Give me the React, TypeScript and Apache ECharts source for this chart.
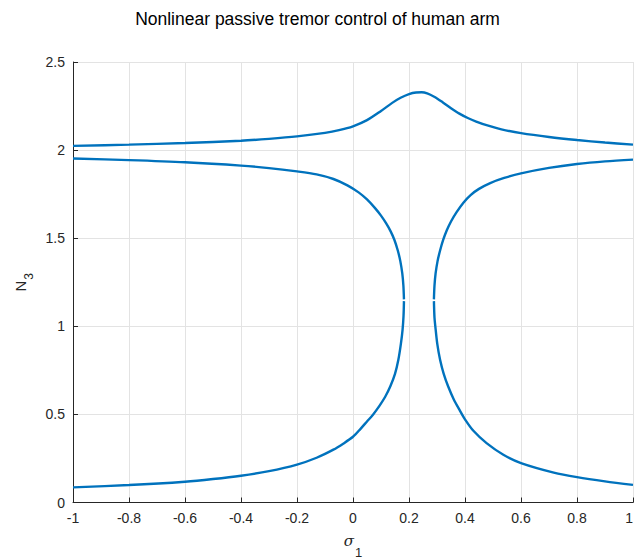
import React, { useEffect, useRef } from "react";
import * as echarts from "echarts";

const xTicks = { min: -1, max: 1, interval: 0.2 };
const yTicks = { min: 0, max: 2.5, interval: 0.5 };

const topCurve: [number, number][] = [
  [-1, 2.024], [-0.8, 2.031], [-0.6, 2.04], [-0.4, 2.053], [-0.3, 2.064], [-0.2, 2.078],
  [-0.1, 2.098], [-0.05, 2.113], [0, 2.135], [0.05, 2.17], [0.1, 2.222], [0.14, 2.268],
  [0.17, 2.297], [0.2, 2.318], [0.225, 2.327], [0.245, 2.328], [0.265, 2.322], [0.29, 2.303],
  [0.32, 2.272], [0.35, 2.238], [0.38, 2.207], [0.41, 2.182], [0.44, 2.162], [0.48, 2.14],
  [0.53, 2.118], [0.6, 2.096], [0.7, 2.074], [0.8, 2.057], [0.9, 2.043], [1, 2.031],
];

const leftUpper: [number, number][] = [
  [-1, 1.952], [-0.8, 1.943], [-0.6, 1.931], [-0.4, 1.912], [-0.3, 1.898], [-0.2, 1.879],
  [-0.13, 1.862], [-0.07, 1.836], [-0.02, 1.8], [0.02, 1.76], [0.05, 1.72], [0.078, 1.672],
  [0.1, 1.628], [0.118, 1.585], [0.134, 1.54], [0.148, 1.49], [0.16, 1.43], [0.169, 1.37],
  [0.176, 1.3], [0.18, 1.23], [0.182, 1.153],
];

const leftLower: [number, number][] = [
  [0.182, 1.143], [0.1805, 1.06], [0.177, 0.98], [0.171, 0.9], [0.162, 0.81], [0.15, 0.73],
  [0.133, 0.658], [0.115, 0.6], [0.095, 0.55], [0.072, 0.5], [0.05, 0.46], [0.027, 0.418],
  [0, 0.373], [-0.035, 0.334], [-0.07, 0.3], [-0.13, 0.254], [-0.2, 0.215], [-0.3, 0.178],
  [-0.4, 0.152], [-0.5, 0.133], [-0.6, 0.118], [-0.8, 0.099], [-1, 0.086],
];

const rightUpper: [number, number][] = [
  [0.289, 1.153], [0.291, 1.23], [0.295, 1.3], [0.302, 1.37], [0.311, 1.43], [0.322, 1.49],
  [0.335, 1.545], [0.35, 1.595], [0.37, 1.648], [0.395, 1.703], [0.42, 1.745], [0.45, 1.78],
  [0.49, 1.813], [0.54, 1.842], [0.6, 1.868], [0.7, 1.899], [0.8, 1.921], [0.9, 1.936],
  [1, 1.946],
];

const rightLower: [number, number][] = [
  [0.289, 1.143], [0.291, 1.05], [0.294, 1.0], [0.301, 0.9], [0.311, 0.81], [0.324, 0.73],
  [0.34, 0.658], [0.36, 0.585], [0.38, 0.527], [0.4, 0.472], [0.43, 0.407], [0.477, 0.337],
  [0.537, 0.271], [0.6, 0.224], [0.717, 0.17], [0.8, 0.144], [0.9, 0.12], [1, 0.1],
];

const curves = [topCurve, leftUpper, leftLower, rightUpper, rightLower];

const titleText = "Nonlinear passive tremor control of human arm";

export default function App() {
  const ref = useRef<HTMLDivElement>(null);
  useEffect(() => {
    if (!ref.current) return;
    const chart = echarts.init(ref.current, undefined, { renderer: "svg" });
    const axisColor = "#262626";
    const font = "Liberation Sans, Arial, sans-serif";
    chart.setOption({
      animation: false,
      backgroundColor: "#ffffff",
      title: {
        text: titleText,
        left: "center",
        top: 5,
        textStyle: { fontFamily: font, fontSize: 17.5, fontWeight: "normal", color: "#000" },
      },
      grid: {
        left: 73,
        right: 2,
        top: 62,
        bottom: 57.5,
        containLabel: false,
        outerBoundsMode: "none",
      },
      xAxis: {
        type: "value",
        min: xTicks.min,
        max: xTicks.max,
        interval: xTicks.interval,
        name: "{s|σ}{n|1}",
        nameLocation: "middle",
        nameGap: 31,
        nameTextStyle: {
          rich: {
            s: {
              fontFamily: "DejaVu Serif, serif",
              fontStyle: "italic",
              fontSize: 15,
              color: axisColor,
              padding: [0, 0, 11, 0],
            },
            n: { fontFamily: font, fontSize: 13, color: axisColor, padding: [11, 0, 0, 1] },
          },
        },
        axisLine: { show: true, onZero: false, lineStyle: { color: axisColor, width: 1 } },
        axisTick: { show: true, inside: true, length: 5, lineStyle: { color: axisColor } },
        axisLabel: {
          color: axisColor,
          fontFamily: font,
          fontSize: 14,
          margin: 8,
          alignMaxLabel: "right",
        },
        splitLine: { show: true, lineStyle: { color: "#e3e3e3", width: 1 } },
      },
      yAxis: {
        type: "value",
        min: yTicks.min,
        max: yTicks.max,
        interval: yTicks.interval,
        name: "{s|N}{n|3}",
        nameLocation: "middle",
        nameGap: 34,
        nameRotate: 90,
        nameTextStyle: {
          rich: {
            s: { fontFamily: font, fontSize: 15, color: axisColor, padding: [0, 0, 8, 0] },
            n: { fontFamily: font, fontSize: 12, color: axisColor, padding: [8, 0, 0, 1] },
          },
        },
        axisLine: { show: true, onZero: false, lineStyle: { color: axisColor, width: 1 } },
        axisTick: { show: true, inside: true, length: 5, lineStyle: { color: axisColor } },
        axisLabel: { color: axisColor, fontFamily: font, fontSize: 14, margin: 8 },
        splitLine: { show: true, lineStyle: { color: "#e3e3e3", width: 1 } },
      },
      series: curves.map((c) => ({
        type: "line",
        data: c,
        showSymbol: false,
        smooth: 0.3,
        clip: false,
        lineStyle: { color: "#0072BD", width: 2.4 },
        itemStyle: { color: "#0072BD" },
      })),
    });
    return () => chart.dispose();
  }, []);
  return (
    <div
      ref={ref}
      style={{ position: "fixed", left: 0, top: 0, width: 635, height: 560 }}
    />
  );
}
